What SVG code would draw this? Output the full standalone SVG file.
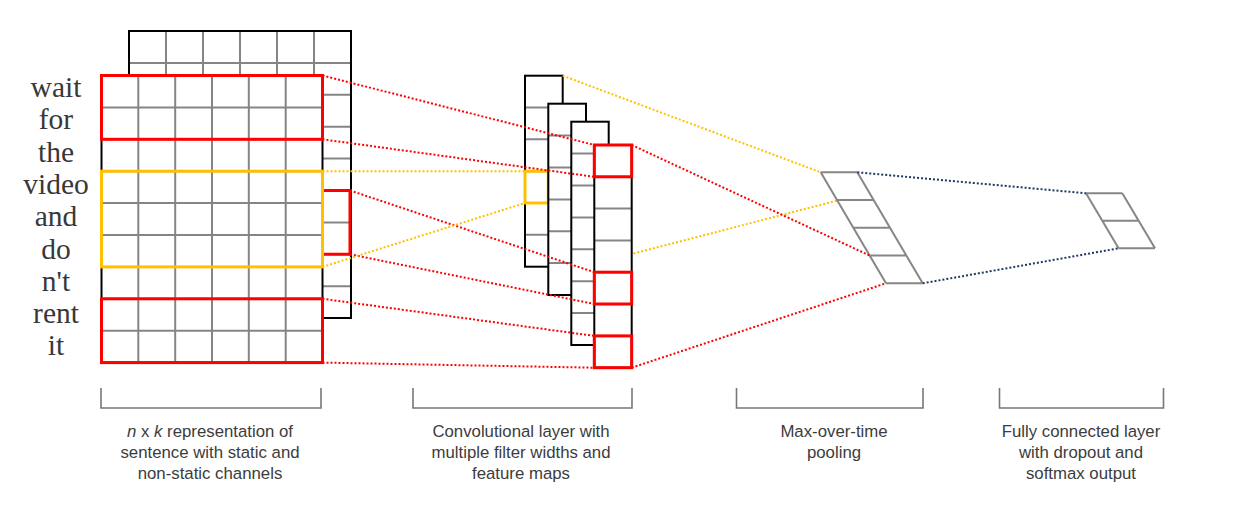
<svg xmlns="http://www.w3.org/2000/svg" width="1260" height="529" viewBox="0 0 1260 529">
<style>
.bg{fill:#ffffff}
.cell{fill:#ffffff;stroke:none}
.grid{stroke:#858585;stroke-width:2;fill:none}
.outline{fill:none;stroke:#000000;stroke-width:2}
.red{fill:none;stroke:#ff0000;stroke-width:3}
.yel{fill:none;stroke:#ffc000;stroke-width:3}
.dr{stroke:#ff0000;stroke-width:2;stroke-dasharray:2 2;fill:none}
.dy{stroke:#ffc000;stroke-width:2;stroke-dasharray:2 2;fill:none}
.dn{stroke:#1f3864;stroke-width:2;stroke-dasharray:2 2;fill:none}
.pool{stroke:#868686;stroke-width:2;fill:none}
.brk{stroke:#777777;stroke-width:1.6;fill:none}
.word{font-family:"Liberation Serif",serif;font-size:29.5px;fill:#383838;text-anchor:middle}
.cap{font-family:"Liberation Sans",Arial,sans-serif;font-size:16.8px;fill:#3c3c3c;text-anchor:middle}
</style>
<rect class="bg" x="0" y="0" width="1260" height="529"/>

<g id="words">
<text class="word" x="56" y="97">wait</text>
<text class="word" x="56" y="129.3">for</text>
<text class="word" x="56" y="161.6">the</text>
<text class="word" x="56" y="193.9">video</text>
<text class="word" x="56" y="226.2">and</text>
<text class="word" x="56" y="258.5">do</text>
<text class="word" x="56" y="290.8">n't</text>
<text class="word" x="56" y="323.1">rent</text>
<text class="word" x="56" y="355.4">it</text>
</g>

<g id="matrix-back">
<rect class="cell" x="129" y="31" width="222" height="287"/>
<path class="grid" d="M166,31V318M203,31V318M240,31V318M277,31V318M314,31V318M129,62.9H351M129,94.8H351M129,126.7H351M129,158.6H351M129,190.5H351M129,222.4H351M129,254.3H351M129,286.2H351"/>
<rect class="outline" x="129" y="31" width="222" height="287"/>
</g>

<g id="matrix-front">
<rect class="cell" x="101.5" y="75.5" width="221" height="287.1"/>
<path class="grid" d="M138.3,75.5V362.6M175.2,75.5V362.6M212,75.5V362.6M248.8,75.5V362.6M285.7,75.5V362.6M101.5,107.4H322.5M101.5,139.3H322.5M101.5,171.2H322.5M101.5,203.1H322.5M101.5,235H322.5M101.5,266.9H322.5M101.5,298.8H322.5M101.5,330.7H322.5"/>
<rect class="outline" x="101.5" y="75.5" width="221" height="287.1"/>
<path class="red" d="M322.5,190.5H350V254.3H322.5"/>
<rect class="red" x="101.5" y="75.5" width="221" height="63.8"/>
<rect class="yel" x="101.5" y="171.2" width="221" height="95.7"/>
<rect class="red" x="101.5" y="298.8" width="221" height="63.8"/>
</g>

<g id="connectors-back">
<path class="dy" d="M836.7,200.7L562.7,272"/>
</g>

<g id="map1">
<rect class="cell" x="525" y="75.7" width="37.7" height="191"/>
<path class="grid" d="M525,107.5H562.7M525,139.3H562.7M525,171.2H562.7M525,203H562.7M525,234.8H562.7"/>
<rect class="outline" x="525" y="75.7" width="37.7" height="191"/>
<rect class="yel" x="525" y="171.2" width="23.3" height="31.8"/>
</g>
<g id="map2">
<rect class="cell" x="548.3" y="103.7" width="37.7" height="191.3"/>
<path class="grid" d="M548.3,135.6H586M548.3,167.5H586M548.3,199.4H586M548.3,231.2H586M548.3,263.1H586"/>
<rect class="outline" x="548.3" y="103.7" width="37.7" height="191.3"/>
</g>
<g id="map3">
<rect class="cell" x="571.3" y="121.7" width="37.4" height="223.3"/>
<path class="grid" d="M571.3,153.6H608.7M571.3,185.5H608.7M571.3,217.4H608.7M571.3,249.3H608.7M571.3,281.2H608.7M571.3,313.1H608.7"/>
<rect class="outline" x="571.3" y="121.7" width="37.4" height="223.3"/>
</g>
<g id="map4">
<rect class="cell" x="594.3" y="145" width="37.4" height="222.7"/>
<path class="grid" d="M594.3,176.8H631.7M594.3,208.6H631.7M594.3,240.4H631.7M594.3,272.2H631.7M594.3,304H631.7M594.3,335.9H631.7"/>
<rect class="outline" x="594.3" y="145" width="37.4" height="222.7"/>
<rect class="red" x="594.3" y="145" width="37.4" height="31.8"/>
<rect class="red" x="594.3" y="272.2" width="37.4" height="31.8"/>
<rect class="red" x="594.3" y="335.9" width="37.4" height="31.8"/>
</g>

<g id="pooling">
<path class="pool" d="M820.7,172.3H857.3M837,200.05H873.6M853.3,227.8H889.9M869.7,255.55H906.3M886,283.3H922.7M820.7,172.3L886,283.3M857.3,172.3L922.7,283.3"/>
</g>

<g id="fc">
<path class="pool" d="M1086,193.3H1122.3M1102.3,220.8H1138.6M1118.6,248.3H1155M1086,193.3L1118.6,248.3M1122.3,193.3L1155,248.3"/>
</g>

<g id="connectors">
<path class="dr" d="M322.5,75.5L594.3,145"/>
<path class="dr" d="M322.5,139.3L594.3,176.8"/>
<path class="dr" d="M350,190.5L594.3,272.2"/>
<path class="dr" d="M350,254.3L594.3,304"/>
<path class="dr" d="M322.5,298.8L594.3,335.9"/>
<path class="dr" d="M322.5,362.6L594.3,367.7"/>
<path class="dr" d="M631.7,145L869.7,255.55"/>
<path class="dr" d="M631.7,367.7L886,283.3"/>
<path class="dy" d="M322.5,171.2L525,171.2"/>
<path class="dy" d="M322.5,266.9L525,203"/>
<path class="dy" d="M562.7,75.7L820.7,172.3"/>
<path class="dn" d="M857.3,172.3L1086,193.3"/>
<path class="dn" d="M922.7,283.3L1118.6,248.3"/>
</g>

<g id="brackets">
<path class="brk" d="M101,388V408H321V388"/>
<path class="brk" d="M413,388V408H632V388"/>
<path class="brk" d="M736.5,388V408H923V388"/>
<path class="brk" d="M999.5,388V408H1163.5V388"/>
</g>

<g id="labels">
<text class="cap" x="210" y="437"><tspan font-style="italic">n</tspan> x <tspan font-style="italic">k</tspan> representation of</text>
<text class="cap" x="210" y="458">sentence with static and</text>
<text class="cap" x="210" y="479">non-static channels</text>
<text class="cap" x="521" y="437">Convolutional layer with</text>
<text class="cap" x="521" y="458">multiple filter widths and</text>
<text class="cap" x="521" y="479">feature maps</text>
<text class="cap" x="834" y="437">Max-over-time</text>
<text class="cap" x="834" y="458">pooling</text>
<text class="cap" x="1081" y="437">Fully connected layer</text>
<text class="cap" x="1081" y="458">with dropout and</text>
<text class="cap" x="1081" y="479">softmax output</text>
</g>
</svg>
